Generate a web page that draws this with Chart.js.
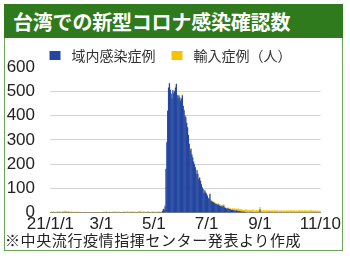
<!DOCTYPE html>
<html>
<head>
<meta charset="utf-8">
<script src="https://cdn.jsdelivr.net/npm/chart.js@4"></script>
<style>
  body { margin: 0; background: #fff; width: 350px; height: 258px; overflow: hidden; }
  #frame { position: absolute; left: 4px; top: 4px; width: 339px; height: 247px;
           border: 1px solid #6aa55a; box-sizing: border-box; }
  #title { position: absolute; left: 4px; top: 4px; width: 339px; height: 34px;
           background: #2e7a1c; color: #fff; font: bold 20px "Noto Sans CJK JP", sans-serif;
           line-height: 36px; padding-left: 9px; box-sizing: border-box; letter-spacing: -0.2px; }
  #wrap { position: absolute; left: 5px; top: 35px; width: 337px; height: 203px; }
  #note { position: absolute; left: 5px; top: 230px; font: 15px "Noto Sans CJK JP", sans-serif;
          color: #222; line-height: 20px; letter-spacing: 0.6px; }
</style>
</head>
<body>
<div id="frame"></div>
<div id="title">台湾での新型コロナ感染確認数</div>
<div id="wrap"><canvas id="chart"></canvas></div>
<div id="note">※中央流行疫情指揮センター発表より作成</div>
<script>
// daily cases 2021/1/1 - 11/10
const domJan = [0,0,0,0,0,0,0,0,0,0, 0,1,0,0,1,1,0,1,2,1, 0,1,0,0,1,0,0,0,0,0, 0];
const domFeb = [0,1,0,0,0,0,0,0,0,0, 0,0,0,0,0,0,0,0,0,0, 0,0,0,0,0,0,0,0];
const domMar = [0,0,0,0,0,0,0,0,0,0, 0,0,0,0,0,0,0,0,0,0, 0,0,0,0,0,0,1,0,0,0, 0];
const domApr = [0,0,0,0,0,0,0,0,0,0, 0,0,0,0,0,0,0,0,0,0, 0,1,0,2,1,0,1,0,0,1];
const domMay = [0,1,0,0,0,1,2,1,1,2, 7,16,13,29,180,290,420,516,533,505,
                489,470,504,492,500,515,530,484,470,484, 475];
const domJun = [460,470,484,440,422,400,393,370,352,320, 283,255,263,240,228,210,200,187,160,175,
                160,138,145,132,118,105,98,80,92,84];
const domJul = [78,70,60,58,77,50,48,45,43,40, 38,36,36,32,34,30,28,26,30,24,
                30,22,20,18,17,19,16,16,14,12, 13];
const domAug = [10,12,9,8,10,7,6,8,7,5, 6,4,5,3,4,3,2,3,2,1, 2,1,3,2,1,0,1,2,1,0, 1];
const domSep = [15,0,0,2,1,0,0,0,1,0, 3,0,1,2,0,0,0,0,1,0, 0,0,0,1,0,0,0,0,0,0];
const domOct = [0,0,0,0,0,0,0,0,0,0, 0,0,0,0,0,0,0,0,0,0, 0,0,0,0,0,0,0,0,0,0, 0];
const domNov = [0,0,0,0,0,0,0,0,0,0];

const impJan = [3,5,2,4,6,3,2,4,5,3, 6,4,2,3,5,4,6,8,3,5, 4,6,2,3,4,5,3,2,4,3, 5];
const impFeb = [2,3,1,4,2,3,2,1,3,2, 4,2,3,1,2,3,2,1,2,3, 1,2,3,2,1,2,3,2];
const impMar = [3,4,2,5,3,4,6,2,3,5, 4,3,2,4,5,3,6,4,3,2, 5,4,3,2,4,3,5,2,4,3, 6];
const impApr = [4,3,5,2,4,6,3,5,4,2, 3,5,4,6,8,5,3,4,6,5, 3,2,4,5,3,4,2,3,4,5];
const impMay = [3,2,4,3,5,2,3,4,2,3, 1,2,3,1,2,3,2,1,2,3, 4,2,1,3,2,5,3,2,1,2, 3];
const impJun = [2,1,3,2,4,1,2,3,2,1, 3,2,4,2,1,3,2,1,2,3, 2,4,1,2,3,2,1,2,3,4];
const impJul = [3,4,2,5,3,4,6,2,3,5, 4,3,2,4,5,3,6,4,3,2, 5,4,3,2,4,3,5,2,4,3, 6];
const impAug = [5,8,6,10,7,9,12,6,8,11, 7,9,6,10,8,12,7,9,6,11, 8,10,7,13,9,6,8,10,7,9, 8];
const impSep = [9,7,10,6,8,12,7,9,11,8, 6,10,7,9,8,12,6,10,7,9, 11,8,6,10,7,9,8,6,10,7];
const impOct = [8,10,7,9,6,12,8,10,7,9, 11,6,8,10,7,9,12,8,6,10, 9,7,11,8,10,6,9,7,12,8, 10];
const impNov = [7,9,6,10,8,7,9,6,8,7];

const domestic = [].concat(domJan, domFeb, domMar, domApr, domMay, domJun, domJul, domAug, domSep, domOct, domNov);
const imported = [].concat(impJan, impFeb, impMar, impApr, impMay, impJun, impJul, impAug, impSep, impOct, impNov);

// category labels: one per day from 2021/1/1
const days = domestic.map((_, i) => {
  const d = new Date(2021, 0, 1 + i);
  return `${d.getMonth() + 1}/${d.getDate()}`;
});

// which days carry an x tick label
const tickDays = [0, 59, 120, 181, 243, 313];
const tickText = ['21/1/1', '3/1', '5/1', '7/1', '9/1', '11/10'];

const yTicks = [0, 100, 200, 300, 400, 500, 600];

const NUM_FONT = { family: '"Liberation Sans", Arial, sans-serif', size: 17 };

// legend sits closer to the plot than chart.js leaves by default
const tightLegend = {
  id: 'tightLegend',
  beforeInit(chart) {
    const fit = chart.legend.fit;
    chart.legend.fit = function () {
      fit.call(this);
      this.height -= 7;
    };
  }
};

new Chart(document.getElementById('chart'), {
  type: 'bar',
  data: {
    labels: days,
    datasets: [
      {
        label: '域内感染症例',
        data: domestic,
        backgroundColor: '#2446a0',
        borderWidth: 0,
        categoryPercentage: 1,
        barPercentage: 1.5
      },
      {
        label: '輸入症例（人）',
        data: imported,
        backgroundColor: '#f5c400',
        borderWidth: 0,
        categoryPercentage: 1,
        barPercentage: 1.5
      }
    ]
  },
  options: {
    responsive: true,
    maintainAspectRatio: false,
    animation: false,
    layout: { padding: { left: 0, right: 10, top: 0, bottom: 0 } },
    plugins: {
      tooltip: { enabled: false },
      legend: {
        position: 'top',
        labels: {
          boxWidth: 19,
          boxHeight: 17,
          padding: 12,
          color: '#333',
          font: { family: '"Noto Sans CJK JP", sans-serif', size: 14 },
          // white outline shrinks the swatch and opens the gap to the text
          generateLabels: chart =>
            Chart.defaults.plugins.legend.labels.generateLabels(chart).map(item => ({
              ...item, strokeStyle: '#fff', lineWidth: 8
            }))
        }
      }
    },
    scales: {
      x: {
        stacked: true,
        grid: { display: false, drawTicks: false },
        border: { color: '#888' },
        ticks: {
          autoSkip: false,
          maxRotation: 0,
          padding: 1,
          color: '#222',
          font: NUM_FONT,
          callback: (v, i) => {
            const k = tickDays.indexOf(i);
            return k >= 0 ? tickText[k] : '';
          }
        }
      },
      y: {
        stacked: true,
        min: yTicks[0],
        max: yTicks[yTicks.length - 1],
        afterBuildTicks: axis => { axis.ticks = yTicks.map(v => ({ value: v })); },
        afterFit: axis => { axis.width = 45; },
        border: { display: false },
        grid: {
          drawTicks: false,
          color: ctx => ctx.tick.value === 0 ? '#888' : (ctx.tick.value === 600 ? 'rgba(0,0,0,0)' : '#d4d4d4')
        },
        ticks: {
          padding: 15,
          color: '#222',
          font: NUM_FONT
        }
      }
    }
  },
  plugins: [tightLegend]
});
</script>
</body>
</html>
